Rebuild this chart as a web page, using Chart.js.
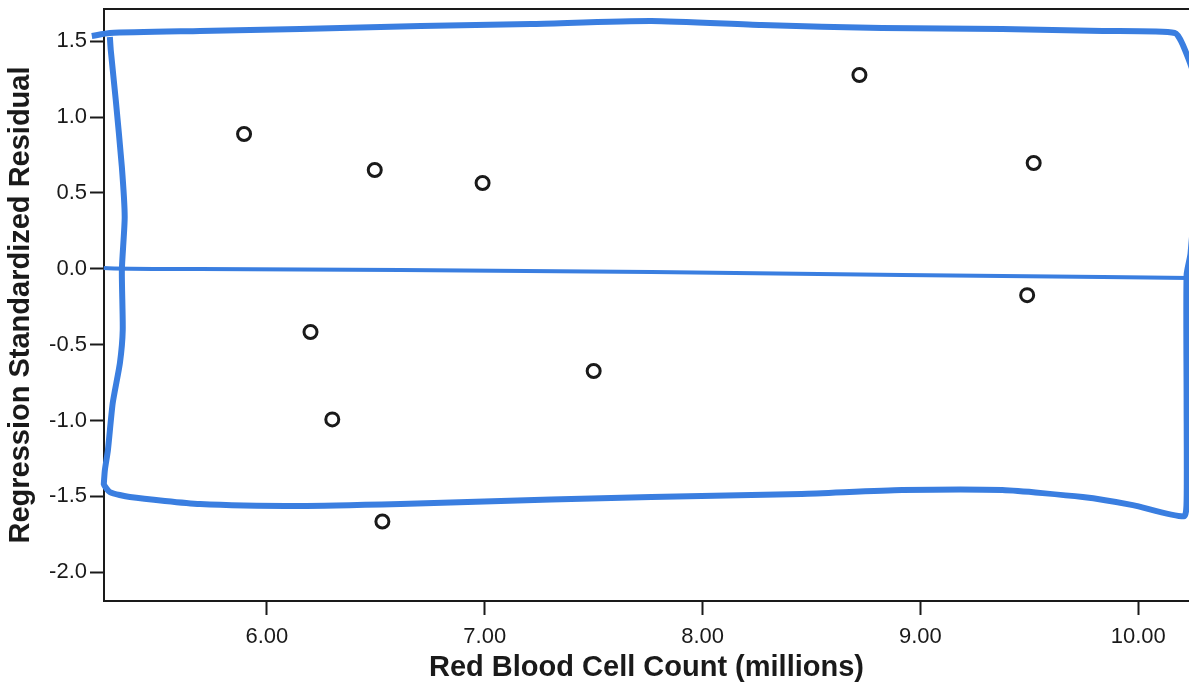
<!DOCTYPE html>
<html>
<head>
<meta charset="utf-8">
<script src="https://cdn.jsdelivr.net/npm/chart.js@4"></script>
<style>
    html, body { margin: 0; padding: 0; background: #ffffff; overflow: hidden; }
    #wrap { width: 1189px; height: 691px; }
</style>
</head>
<body>
<div id="wrap"><canvas id="residuos"></canvas></div>
<script>
// valores
const contagemHemacias = [5.895, 6.495, 6.99, 8.72, 9.52, 9.49, 6.20, 6.30, 7.50, 6.53];
const residuoPadronizado = [0.888, 0.651, 0.565, 1.277, 0.697, -0.174, -0.417, -0.993, -0.674, -1.666];

const ticksX = [6, 7, 8, 9, 10];
const ticksY = [1.5, 1.0, 0.5, 0.0, -0.5, -1.0, -1.5, -2.0];

// caneta azul (retangulo desenhado a mao), em unidades dos eixos
const caixaX = [5.196, 5.279, 5.693, 6.153, 6.706, 7.212, 7.765, 8.271, 8.824, 9.376, 9.837, 10.168,
    10.205, 10.26, 10.27, 10.24, 10.222, 10.222, 10.222, 10.21,
    9.975, 9.745, 9.376, 8.916, 8.455, 7.995, 7.535, 7.074, 6.614, 6.153, 5.693, 5.371, 5.279, 5.251,
    5.256, 5.270, 5.292, 5.325, 5.338, 5.334, 5.347, 5.334, 5.306, 5.283, 5.279];
const caixaY = [1.534, 1.554, 1.567, 1.580, 1.600, 1.613, 1.633, 1.606, 1.587, 1.580, 1.567, 1.554,
    1.475, 1.244, 0.717, 0.100, -0.042, -0.866, -1.525, -1.632,
    -1.558, -1.505, -1.459, -1.459, -1.485, -1.498, -1.512, -1.531, -1.551, -1.564, -1.551, -1.505, -1.472, -1.419,
    -1.327, -1.195, -0.886, -0.622, -0.403, -0.009, 0.341, 0.671, 1.112, 1.442, 1.527];

// linha do zero
const zeroX = [5.209, 5.251, 5.693, 6.614, 7.765, 8.916, 9.837, 10.247];
const zeroY = [0.038, 0.005, -0.002, -0.009, -0.022, -0.042, -0.055, -0.061];

const fonte = "'Liberation Sans', Arial, sans-serif";
const azul = '#3a7ee0';

function juntar(xs, ys) {
    const pts = [];
    for (let i = 0; i < xs.length; i++) {
        pts.push({ x: xs[i], y: ys[i] });
    }
    return pts;
}

function semPaddingX(eixo, altura) {
    eixo.height = altura;
    eixo.paddingLeft = 0;
    eixo.paddingRight = 0;
}

window.onload = () => {
    const grafico = document.getElementById('residuos');
    new Chart(grafico, {
        type: 'scatter',
        data: {
            datasets: [{
                data: juntar(contagemHemacias, residuoPadronizado),
                pointRadius: 6.5,
                pointBorderWidth: 3,
                borderColor: '#1a1a1a',
                backgroundColor: '#ffffff',
                order: 2
            }, {
                data: juntar(caixaX, caixaY),
                showLine: true,
                pointRadius: 0,
                borderColor: azul,
                borderWidth: 6,
                tension: 0.2,
                clip: false,
                order: 1
            }, {
                data: juntar(zeroX, zeroY),
                showLine: true,
                pointRadius: 0,
                borderColor: azul,
                borderWidth: 4,
                tension: 0.2,
                clip: false,
                order: 1
            }]
        },
        options: {
            responsive: true,
            maintainAspectRatio: false,
            animation: false,
            layout: { autoPadding: false, padding: { top: 9, right: 0, left: 0, bottom: 0 } },
            plugins: {
                legend: { display: false },
                tooltip: { enabled: false }
            },
            scales: {
                x: {
                    type: 'linear',
                    position: 'bottom',
                    min: 5.252,
                    max: 10.233,
                    afterBuildTicks: (eixo) => { eixo.ticks = ticksX.map(v => ({ value: v })); },
                    afterFit: (eixo) => semPaddingX(eixo, 90),
                    grid: {
                        drawOnChartArea: false,
                        drawTicks: true,
                        tickLength: 14,
                        tickWidth: 2,
                        tickColor: '#1a1a1a'
                    },
                    border: { display: true, color: '#1a1a1a', width: 2 },
                    ticks: {
                        color: '#1a1a1a',
                        padding: 9,
                        font: { family: fonte, size: 22 },
                        callback: (v) => Number(v).toFixed(2)
                    },
                    title: {
                        display: true,
                        text: 'Red Blood Cell Count (millions)',
                        color: '#1a1a1a',
                        padding: { top: 0, bottom: 6 },
                        font: { family: fonte, size: 29, weight: 'bold' }
                    }
                },
                topo: {
                    type: 'linear',
                    position: 'top',
                    min: 5.252,
                    max: 10.233,
                    afterFit: (eixo) => semPaddingX(eixo, 0),
                    grid: { drawOnChartArea: false, drawTicks: false },
                    border: { display: true, color: '#1a1a1a', width: 2 },
                    ticks: { display: false }
                },
                y: {
                    type: 'linear',
                    position: 'left',
                    min: -2.19,
                    max: 1.712,
                    afterBuildTicks: (eixo) => { eixo.ticks = ticksY.map(v => ({ value: v })); },
                    afterFit: (eixo) => {
                        eixo.width = 104;
                        eixo.paddingTop = 0;
                        eixo.paddingBottom = 0;
                    },
                    grid: {
                        drawOnChartArea: false,
                        drawTicks: true,
                        tickLength: 14,
                        tickWidth: 2,
                        tickColor: '#1a1a1a'
                    },
                    border: { display: true, color: '#1a1a1a', width: 2 },
                    ticks: {
                        color: '#1a1a1a',
                        padding: 3,
                        font: { family: fonte, size: 22 },
                        callback: (v) => Number(v).toFixed(1)
                    },
                    title: {
                        display: true,
                        text: 'Regression Standardized Residual',
                        color: '#1a1a1a',
                        padding: { top: 4, bottom: 0 },
                        font: { family: fonte, size: 29, weight: 'bold' }
                    }
                }
            }
        }
    });
}
</script>
</body>
</html>
